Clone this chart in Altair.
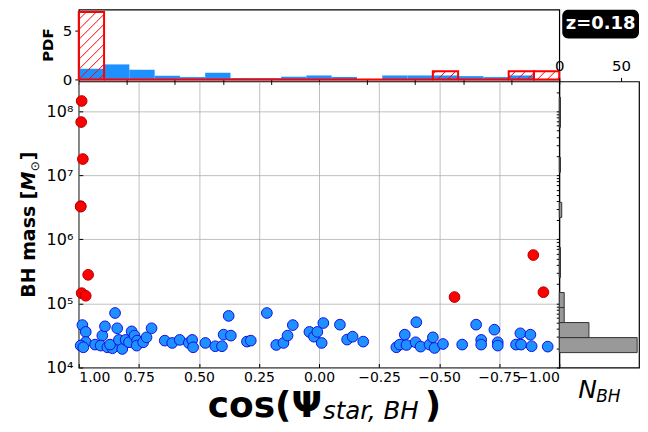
import altair as alt
import numpy as np
import pandas as pd

# ---------------- data ----------------
blue_cos = [0.985, 0.971, 0.971, 0.992, 0.981, 0.932, 0.902, 0.891, 0.909, 0.881,
            0.860, 0.870, 0.849, 0.840, 0.833, 0.819, 0.805, 0.791, 0.780, 0.768,
            0.757, 0.759, 0.732, 0.718, 0.697, 0.642, 0.611, 0.580, 0.542, 0.528,
            0.524, 0.473, 0.432, 0.404, 0.397, 0.376, 0.367, 0.300, 0.284, 0.217,
            0.178, 0.148, 0.131, 0.109, 0.040, 0.021, 0.007, -0.011, -0.018, -0.087,
            -0.117, -0.140, -0.184, -0.322, -0.336, -0.364, -0.357, -0.405, -0.402, -0.423,
            -0.460, -0.474, -0.481, -0.516, -0.596, -0.654, -0.675, -0.675, -0.730, -0.744,
            -0.744, -0.820, -0.838, -0.841, -0.880, -0.885, -0.952]
blue_mass_1e4 = [4.6, 3.6, 2.5, 2.2, 2.07, 2.28, 3.15, 4.4, 2.2, 2.07,
                 2.0, 2.28, 7.1, 4.1, 2.7, 1.95, 2.7, 2.48, 3.67, 3.15,
                 2.63, 2.2, 2.48, 2.96, 4.1, 2.63, 2.42, 2.7, 2.42, 2.7,
                 2.07, 2.42, 2.15, 2.15, 3.26, 6.4, 3.15, 2.54, 2.63, 7.1,
                 2.25, 2.42, 3.15, 4.6, 3.6, 3.03, 3.6, 2.42, 4.95, 4.67,
                 2.73, 3.03, 2.54, 2.07, 2.28, 2.25, 3.26, 5.1, 2.48, 2.12,
                 2.28, 2.96, 2.02, 2.33, 2.28, 4.67, 2.7, 2.28, 3.9, 2.48,
                 2.2, 2.28, 3.42, 2.28, 3.26, 2.15, 2.12]
red_cos = [0.988, 0.990, 0.983, 0.992, 0.992, 0.961, 0.988, 0.971, -0.564, -0.892, -0.934]
red_mass = [1.45e8, 6.8e7, 1.8e7, 3.3e6, 3.25e6, 2.8e5, 1.45e5, 1.32e5, 1.26e5, 5.7e5, 1.5e5]

# top histogram: 19 bins from cos=1 to cos=-1
cos_edges = list(np.linspace(1.0, -1.0, 20))
blue_pdf = [1.10, 1.55, 1.00, 0.38, 0.24, 0.69, 0.14, 0.14, 0.28, 0.41,
            0.24, 0.0, 0.41, 0.41, 0.41, 0.34, 0.24, 0.41, 0.0]
red_pdf = [6.95, 0, 0, 0, 0, 0, 0, 0, 0, 0,
           0, 0, 0, 0, 0.85, 0, 0, 0.85, 0.85]

# right histogram: log-mass bins
mass_log_edges = [4.233 + 0.2345 * k for k in range(18)]
nbh_counts = [63, 24, 4, 4, 0, 1, 1, 0, 0, 2, 0, 0, 1, 0, 0, 1, 1]

x_ticks = [1.0, 0.75, 0.5, 0.25, 0.0, -0.25, -0.5, -0.75, -1.0]
x_minor_ticks = [round(1 - 0.05 * i, 2) for i in range(41)]
y_decades = [1e4, 1e5, 1e6, 1e7, 1e8]
pdf_ticks = [0, 5]
nbh_ticks = [0, 50]

# ---------------- layout constants ----------------
W, H_TOP, H_MAIN, W_RIGHT = 482, 70, 287, 80
PDF_MAX = 7.2
MASS_DOMAIN = [1e4, 2.93e8]
FONT = "DejaVu Sans"

cos_scale = alt.Scale(domain=[-1, 1], reverse=True, nice=False, zero=False)
mass_scale = alt.Scale(type="log", domain=MASS_DOMAIN, nice=False)

# ---------------- top histogram ----------------
top_df = pd.DataFrame({"lo": cos_edges[:-1], "hi": cos_edges[1:],
                       "blue": blue_pdf, "red": red_pdf, "zero": 0.0})

pdf_scale = alt.Scale(domain=[0, PDF_MAX], nice=False)
blue_bars = alt.Chart(top_df).mark_rect(color="#1E90FF").encode(
    # bottom axis of the top panel only draws the small ticks seen along the main panel's top edge
    x=alt.X("lo:Q", scale=cos_scale,
            axis=alt.Axis(title=None, values=x_minor_ticks, labels=False, tickSize=5,
                          domain=False, grid=False)),
    x2="hi:Q",
    y=alt.Y("blue:Q", scale=pdf_scale,
            axis=alt.Axis(title="PDF", values=pdf_ticks, format="d",
                          labelOverlap=False,
                          labelFontSize=15, titleFontSize=15, titleFontWeight="bold",
                          tickSize=4, domain=False, grid=False, labelPadding=3,
                          titlePadding=7)),
    y2="zero:Q",
)
red_bars = alt.Chart(top_df).mark_rect(fillOpacity=0, stroke="#FF0000", strokeWidth=2).encode(
    x=alt.X("lo:Q", scale=cos_scale), x2="hi:Q",
    y=alt.Y("red:Q", scale=pdf_scale), y2="zero:Q",
)

# hatch segments ("/") inside the red bars, derived from the red bins
hatch = []
step = 10.0
for lo, hi, h in zip(cos_edges[:-1], cos_edges[1:], red_pdf):
    if h <= 0:
        continue
    x0 = (1 - lo) / 2 * W
    x1 = (1 - hi) / 2 * W
    hp = h / PDF_MAX * H_TOP
    kmin = int(np.ceil(-x1 / step))
    kmax = int(np.floor((hp - x0) / step))
    for k in range(kmin, kmax + 1):
        c = k * step
        xa = max(x0, -c)
        xb = min(x1, hp - c)
        if xb - xa > 0.5:
            hatch.append({"xa": 1 - 2 * xa / W, "xb": 1 - 2 * xb / W,
                          "ya": (xa + c) / H_TOP * PDF_MAX, "yb": (xb + c) / H_TOP * PDF_MAX})
hatch_df = pd.DataFrame(hatch)
hatch_lines = alt.Chart(hatch_df).mark_rule(color="#FF0000", stroke="#FF0000", strokeWidth=1).encode(
    x=alt.X("xa:Q", scale=cos_scale), x2="xb:Q",
    y=alt.Y("ya:Q", scale=pdf_scale), y2="yb:Q",
)

top = alt.layer(blue_bars, red_bars, hatch_lines).properties(width=W, height=H_TOP)

# ---------------- main scatter ----------------
blue_df = pd.DataFrame({"cos": blue_cos, "mass": [m * 1e4 for m in blue_mass_1e4]})
red_df = pd.DataFrame({"cos": red_cos, "mass": red_mass})

sup_expr = ("'10' + ['\u2070','\u00b9','\u00b2','\u00b3','\u2074','\u2075','\u2076',"
            "'\u2077','\u2078','\u2079'][round(log(datum.value)/LN10)]")

blue_pts = alt.Chart(blue_df).mark_circle(size=115, color="#1E90FF", opacity=1,
                                          stroke="#1010E0", strokeWidth=1).encode(
    x=alt.X("cos:Q", scale=cos_scale,
            axis=alt.Axis(title=None, values=x_ticks, format=".2f", labelFontSize=14,
                          labelOverlap=False,
                          grid=True, gridColor="#b0b0b0", gridWidth=0.8,
                          domain=False, tickSize=4, offset=-4, labelPadding=3)),
    y=alt.Y("mass:Q", scale=mass_scale,
            axis=alt.Axis(title=None, values=y_decades, labelExpr=sup_expr,
                          labelOverlap=False,
                          labelFontSize=16, grid=True, gridColor="#b0b0b0", gridWidth=0.8,
                          domain=False, tickSize=4, offset=-4, labelPadding=6)),
)
red_pts = alt.Chart(red_df).mark_circle(size=115, color="#FF0000", opacity=1,
                                        stroke="#B00000", strokeWidth=1).encode(
    x=alt.X("cos:Q", scale=cos_scale),
    y=alt.Y("mass:Q", scale=mass_scale),
)

one = pd.DataFrame({"t": [""]})


def label(text, x, y, size, weight="normal", style="normal", align="left", angle=0, color="black"):
    kw = dict(text=text, font=FONT, fontSize=size, fontWeight=weight, fontStyle=style,
              align=align, baseline="alphabetic", color=color)
    if angle:
        kw["angle"] = angle
    return alt.Chart(one).mark_text(**kw).encode(x=alt.value(x), y=alt.value(y))


# x-axis title: cos(Psi_{star, BH})
xt1 = label("cos(\u03a8", 244, 337, 36, weight="bold", align="right")
xt2 = label("star, BH", 245, 339, 24.5, style="italic")
xt3 = label(")", 347, 337, 36, weight="bold")

# y-axis title: BH mass [M_sun]  (rotated, reads bottom to top)
yt1 = label("BH mass [", -44, 217, 19, weight="bold", angle=270)
yt2 = label("M", -44, 109.5, 19, weight="bold", style="italic", angle=270)
yt3 = label("\u2299", -40, 90, 12, angle=270)
yt4 = label("]", -44, 79, 19, weight="bold", angle=270)

# invisible anchor fixing the left edge of the whole figure
anchor = alt.Chart(one).mark_rect(opacity=0).encode(
    x=alt.value(-70), x2=alt.value(-69), y=alt.value(100), y2=alt.value(101))

main = alt.layer(blue_pts, red_pts, xt1, xt2, xt3, yt1, yt2, yt3, yt4, anchor).properties(
    width=W, height=H_MAIN)

# ---------------- right histogram ----------------
right_df = pd.DataFrame({"lo": [10 ** e for e in mass_log_edges[:-1]],
                         "hi": [10 ** e for e in mass_log_edges[1:]],
                         "n": nbh_counts, "zero": 0})
right_df = right_df[right_df["n"] > 0]

minor_mass = [k * 10 ** e for e in range(4, 9) for k in range(1, 10) if k * 10 ** e <= MASS_DOMAIN[1]]

rbars = alt.Chart(right_df).mark_rect(fill="#999999", stroke="#333333", strokeWidth=1).encode(
    x=alt.X("n:Q", scale=alt.Scale(domain=[0, 64.5], nice=False),
            axis=alt.Axis(orient="top", title=None, values=nbh_ticks, format="d",
                          labelOverlap=False,
                          labelFontSize=15, tickSize=4, domain=False, grid=False,
                          labelPadding=4, labelFlush=False)),
    x2="zero:Q",
    y=alt.Y("lo:Q", scale=mass_scale,
            axis=alt.Axis(title=None, values=minor_mass, labels=False, tickSize=3,
                          domain=False, grid=False)),
    y2="hi:Q",
)
zbox = alt.Chart(one).mark_rect(color="black", cornerRadius=6).encode(
    x=alt.value(3), x2=alt.value(80), y=alt.value(-72), y2=alt.value(-43))
ztext = alt.Chart(one).mark_text(text="z=0.18", font=FONT, fontSize=18, fontWeight="bold",
                                 color="white", align="center", baseline="middle").encode(
    x=alt.value(41.5), y=alt.value(-57.5))
nb1 = label("N", 19, 318, 25, style="italic")
nb2 = label("BH", 37, 322, 17, style="italic")

right = alt.layer(rbars, zbox, ztext, nb1, nb2).properties(width=W_RIGHT, height=H_MAIN)

chart = alt.vconcat(
    top,
    alt.hconcat(main, right, spacing=0, bounds="flush"),
    spacing=2, bounds="flush",
).properties(
    padding={"left": 0, "top": 0, "right": 0, "bottom": 0},
).configure(font=FONT).configure_view(
    stroke="black", strokeWidth=1.2
).configure_axis(
    labelFont=FONT, titleFont=FONT, labelColor="black", titleColor="black",
    tickColor="black",
)

chart.save("out.html", embed_options={"renderer": "svg", "actions": False})
